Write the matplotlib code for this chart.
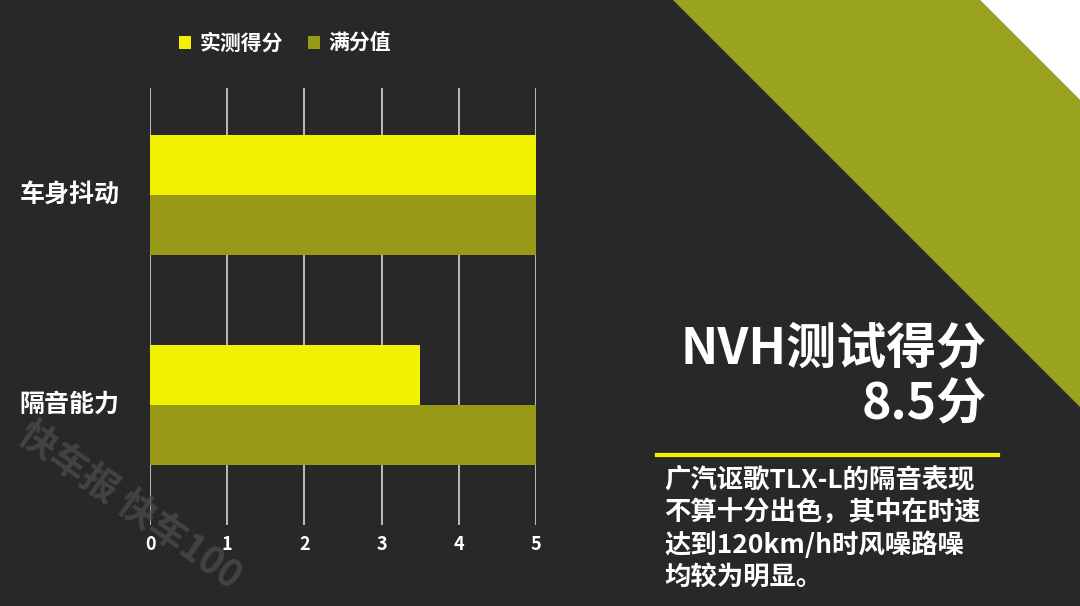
import matplotlib
matplotlib.use("Agg")
import matplotlib.pyplot as plt
from matplotlib.patches import Polygon, Patch
from matplotlib.lines import Line2D

plt.rcParams['font.family'] = ['Noto Sans CJK SC', 'DejaVu Sans']

categories = ["车身抖动", "隔音能力"]
measured = [5, 3.5]
full = [5, 5]
series_names = ["实测得分", "满分值"]
xticks = [0, 1, 2, 3, 4, 5]

BG = "#282828"
YELLOW = "#f2f200"
OLIVE = "#999918"
BAND = "#9aa31f"

W, H = 1080, 606
fig = plt.figure(figsize=(W / 100, H / 100), dpi=100, facecolor=BG)

def fx(px):
    return px / W

def fy(py):
    return 1 - py / H

# decorative diagonal band and white corner
fig.add_artist(Polygon([(fx(673), fy(0)), (fx(980), fy(0)), (fx(1080), fy(100)), (fx(1080), fy(407))],
                       closed=True, transform=fig.transFigure, facecolor=BAND, edgecolor='none', zorder=0))
fig.add_artist(Polygon([(fx(980), fy(0)), (fx(1080), fy(0)), (fx(1080), fy(100))],
                       closed=True, transform=fig.transFigure, facecolor="white", edgecolor='none', zorder=0))

ax = fig.add_axes([fx(150), fy(525), fx(536) - fx(150), (525 - 88) / H])
ax.set_facecolor('none')

bh = 60 / 210
pos = list(range(len(categories)))
ax.barh([p - bh / 2 for p in pos], measured, height=bh, color=YELLOW, zorder=3)
ax.barh([p + bh / 2 for p in pos], full, height=bh, color=OLIVE, zorder=3)

ax.set_xlim(0, 5)
ax.set_ylim(1 + 120 / 210, -107 / 210)
ax.set_xticks(xticks)
ax.set_xticklabels([str(t) for t in xticks], color="white", fontsize=13, fontweight='bold')
ax.set_yticks(pos)
ax.set_yticklabels(categories, color="white", fontsize=18, fontweight='bold')
ax.tick_params(axis='both', length=0)
ax.tick_params(axis='y', pad=22)
ax.tick_params(axis='x', pad=7)
for lab in ax.get_yticklabels():
    lab.set_va('center')
ax.grid(axis='x', color="#c8c8c8", linewidth=1.3, zorder=1)
ax.set_axisbelow(True)
for s in ax.spines.values():
    s.set_visible(False)

handles = [Patch(facecolor=YELLOW, label=series_names[0]), Patch(facecolor=OLIVE, label=series_names[1])]
leg = fig.legend(handles=handles, loc='center', bbox_to_anchor=(fx(285), fy(43)), ncol=2,
                 frameon=False, handlelength=0.6, handleheight=0.6, handletextpad=0.4,
                 columnspacing=1.2, prop={'size': 15, 'weight': 'bold'})
for t in leg.get_texts():
    t.set_color("white")

# right panel text
fig.text(fx(987), fy(350), "NVH测试得分", ha='right', va='center', color='white',
         fontsize=36, fontweight='bold')
fig.text(fx(987), fy(405), "8.5分", ha='right', va='center', color='white',
         fontsize=36, fontweight='bold')
fig.add_artist(Line2D([fx(657), fx(998)], [fy(455), fy(455)], transform=fig.transFigure,
                      color=YELLOW, linewidth=3))
para = ["广汽讴歌TLX-L的隔音表现", "不算十分出色，其中在时速", "达到120km/h时风噪路噪", "均较为明显。"]
for i, line in enumerate(para):
    fig.text(fx(664), fy(481 + i * 32), line, ha='left', va='center', color='white',
             fontsize=19, fontweight='bold')

# watermark
fig.text(fx(130), fy(505), "快车报 快车100", ha='center', va='center', color='#4a4a4a', alpha=0.8,
         fontsize=27, fontweight='bold', rotation=-35)

fig.savefig("out.png", dpi=100, facecolor=BG)
